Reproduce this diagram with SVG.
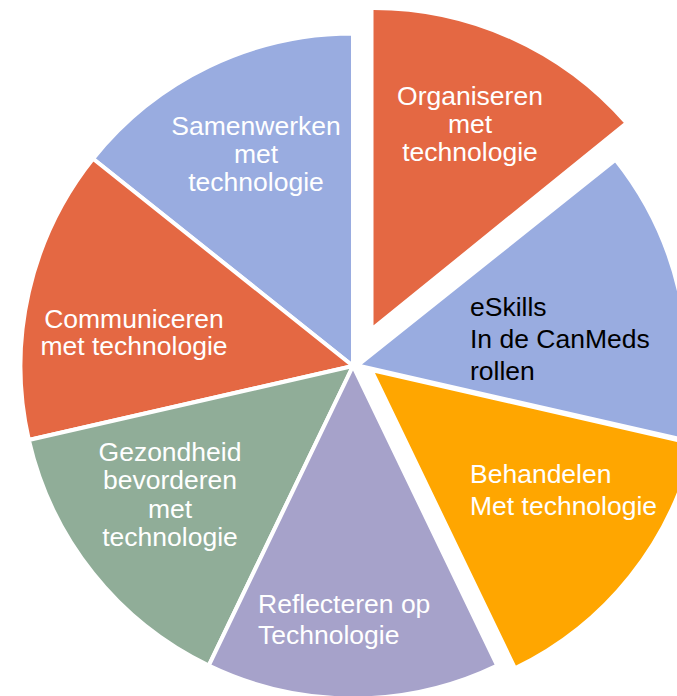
<svg xmlns="http://www.w3.org/2000/svg" width="677" height="696" viewBox="0 0 677 696">
<style>
.s{stroke:#fff;stroke-width:4;stroke-linejoin:round}
.or{fill:#E46843}
.bl{fill:#99ACE0}
.ye{fill:#FFA600}
.pu{fill:#A6A2CA}
.gr{fill:#90AD98}
text{font-family:"Liberation Sans",Arial,sans-serif;font-size:26.5px;fill:#fff}
.c{text-anchor:middle}
.k{fill:#000}
</style>
<rect width="677" height="696" fill="#fff"/>
<g id="samenwerken">
<path class="s bl" d="M353,366 L93.04,158.69 A332.5,332.5 0 0 1 353,33.5 Z"/>
<text class="c" x="256" y="135">Samenwerken</text>
<text class="c" x="256" y="163">met</text>
<text class="c" x="256" y="191">technologie</text>
</g>
<g id="communiceren">
<path class="s or" d="M353,366 L28.84,439.99 A332.5,332.5 0 0 1 93.04,158.69 Z"/>
<text class="c" x="134" y="328">Communiceren</text>
<text class="c" x="134" y="355">met technologie</text>
</g>
<g id="gezondheid">
<path class="s gr" d="M353,366 L208.73,665.57 A332.5,332.5 0 0 1 28.84,439.99 Z"/>
<text class="c" x="170" y="461">Gezondheid</text>
<text class="c" x="170" y="489">bevorderen</text>
<text class="c" x="170" y="518">met</text>
<text class="c" x="170" y="546">technologie</text>
</g>
<g id="reflecteren">
<path class="s pu" d="M353,366 L497.27,665.57 A332.5,332.5 0 0 1 208.73,665.57 Z"/>
<text x="258" y="613">Reflecteren op</text>
<text x="258" y="644">Technologie</text>
</g>
<g id="behandelen">
<path class="s ye" d="M371.4,370.1 L694.1,443.8 A331,331 0 0 1 515,668.3 Z"/>
<text x="470" y="483">Behandelen</text>
<text x="470" y="515">Met technologie</text>
</g>
<g id="eskills">
<path class="s bl" d="M357.5,365.5 L615.5,159.7 A330,330 0 0 1 679.2,438.9 Z"/>
<text class="k" x="470" y="316">eSkills</text>
<text class="k" x="470" y="348">In de CanMeds</text>
<text class="k" x="470" y="380">rollen</text>
</g>
<g id="organiseren">
<path class="s or" d="M371.5,329.6 L371.5,8 A336,336 0 0 1 626.6,123 Z"/>
<text class="c" x="470" y="105">Organiseren</text>
<text class="c" x="470" y="133">met</text>
<text class="c" x="470" y="161">technologie</text>
</g>
<g id="connectors"></g>
</svg>
